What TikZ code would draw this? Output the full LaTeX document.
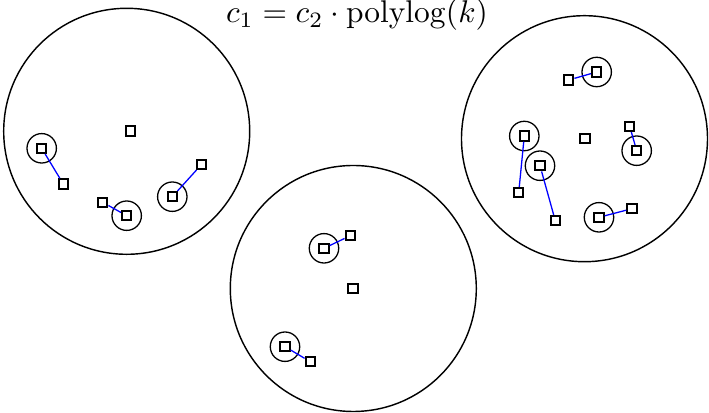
\documentclass[tikz,border=0pt]{standalone}
\begin{document}
\begin{tikzpicture}[x=0.35pt,y=-0.35pt,
  pt/.style={draw, rectangle, minimum size=3.3pt, inner sep=0pt, line width=0.7pt, fill=white},
  ring/.style={draw, circle, minimum size=10.3pt, inner sep=0pt, line width=0.45pt},
  big/.style={draw, circle, minimum size=86.1pt, inner sep=0pt, line width=0.5pt},
  link/.style={blue, line width=0.45pt}]
\useasboundingbox (0,0) rectangle (709,413);
% big circles
\node[big] (L) at (126.7,131.3) {};
\node[big] (R) at (584.5,138.7) {};
\node[big] (M) at (353.3,288.5) {};
% title
\node[anchor=base, inner sep=0pt, scale=1.1] (title) at (357,23) {$c_1 = c_2 \cdot \mathrm{polylog}(k)$};
% rings
\foreach \n/\x/\y in {ra1/41.7/148.3, ra2/126.7/215.7, ra3/172.3/196.7,
  rb1/596.7/72, rb2/524.3/136, rb3/540/165.7, rb4/636.7/150.7, rb5/599/217.3,
  rc1/324/248.3, rc2/285/346.7}
  \node[ring] (\n) at (\x,\y) {};
% points
\node[pt] (a1) at (41.7,148.3) {};
\node[pt] (a1p) at (63.3,184) {};
\node[pt] (a2) at (126.7,215.7) {};
\node[pt] (a2p) at (102.7,202.3) {};
\node[pt] (a3) at (172.3,196.7) {};
\node[pt] (a3p) at (201.7,164.3) {};
\node[pt] (a0) at (130.7,131) {};
\node[pt] (b1) at (596.7,72) {};
\node[pt] (b1p) at (568.7,80) {};
\node[pt] (b2) at (524.3,136) {};
\node[pt] (b2p) at (518.7,192.7) {};
\node[pt] (b3) at (540,165.7) {};
\node[pt] (b3p) at (555.3,220.7) {};
\node[pt] (b0) at (585,138.3) {};
\node[pt] (b4) at (636.7,150.7) {};
\node[pt] (b4p) at (629.7,126.3) {};
\node[pt] (b5) at (599,217.3) {};
\node[pt] (b5p) at (632,208.7) {};
\node[pt] (c1) at (324,248.3) {};
\node[pt] (c1p) at (350.3,235.7) {};
\node[pt] (c0) at (353,288.7) {};
\node[pt] (c2) at (285,346.7) {};
\node[pt] (c2p) at (310.3,361.7) {};
% links
\foreach \s/\t in {a1/a1p, a2/a2p, a3/a3p, b1/b1p, b2/b2p, b3/b3p, b4/b4p, b5/b5p, c1/c1p, c2/c2p}
  \draw[link] (\s) -- (\t);
\end{tikzpicture}
\end{document}
